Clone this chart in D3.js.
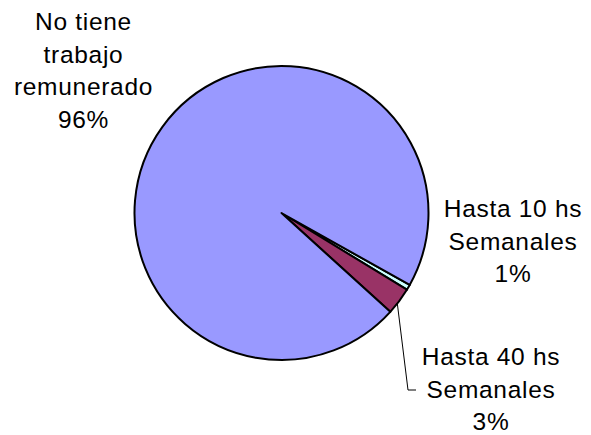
<!DOCTYPE html>
<html>
<head>
<meta charset="utf-8">
<script src="https://cdn.jsdelivr.net/npm/d3@7"></script>
<style>
  html, body { margin: 0; padding: 0; background: #fff; }
  svg { display: block; }
  text { font-family: "Liberation Sans", Arial, sans-serif; fill: #000; }
</style>
</head>
<body>
<svg id="chart" width="591" height="435"></svg>
<script>
// Data (order as drawn clockwise from the cut near 4 o'clock)
const categories = [
  ["Hasta 10 hs", "Semanales"],
  ["Hasta 40 hs", "Semanales"],
  ["No tiene", "trabajo", "remunerado"]
];
const values = [0.6, 3.0, 96.4];
const colors = ["#CCFFFF", "#993366", "#9999FF"];

const svg = d3.select("#chart");
const cx = 281.5, cy = 213, r = 147;
const startDeg = 119.3;

const pie = d3.pie().sort(null).value(d => d)
  .startAngle(startDeg * Math.PI / 180)
  .endAngle((startDeg + 360) * Math.PI / 180);
const arcs = pie(values);
const arc = d3.arc().innerRadius(0).outerRadius(r);

const g = svg.append("g").attr("transform", `translate(${cx},${cy})`);
g.selectAll("path").data(arcs).enter().append("path")
  .attr("d", arc)
  .attr("fill", (d, i) => colors[i])
  .attr("stroke", "#000")
  .attr("stroke-width", 2)
  .attr("stroke-linejoin", "round");

const total = d3.sum(values);
const pctText = v => Math.round(v / total * 100) + "%";

// label anchor positions (centre x, first baseline y)
const labelPos = [[513, 217], [491, 365], [83.5, 30]];
const lineH = 32.6;
categories.forEach((lines, i) => {
  const t = svg.append("text")
    .attr("text-anchor", "middle")
    .attr("font-size", 24.5)
    .attr("letter-spacing", 0.7);
  lines.concat([pctText(values[i])]).forEach((s, k) => {
    t.append("tspan")
      .attr("x", labelPos[i][0])
      .attr("y", labelPos[i][1] + k * lineH)
      .text(s);
  });
});

// leader line for the "Hasta 40 hs" slice
const mid = (arcs[1].startAngle + arcs[1].endAngle) / 2 + 0.02;
const p0 = [cx + r * Math.sin(mid), cy - r * Math.cos(mid)];
svg.append("path")
  .attr("d", d3.line()([p0, [408, 390], [416, 390]]))
  .attr("fill", "none")
  .attr("stroke", "#000")
  .attr("stroke-width", 1);
</script>
</body>
</html>
